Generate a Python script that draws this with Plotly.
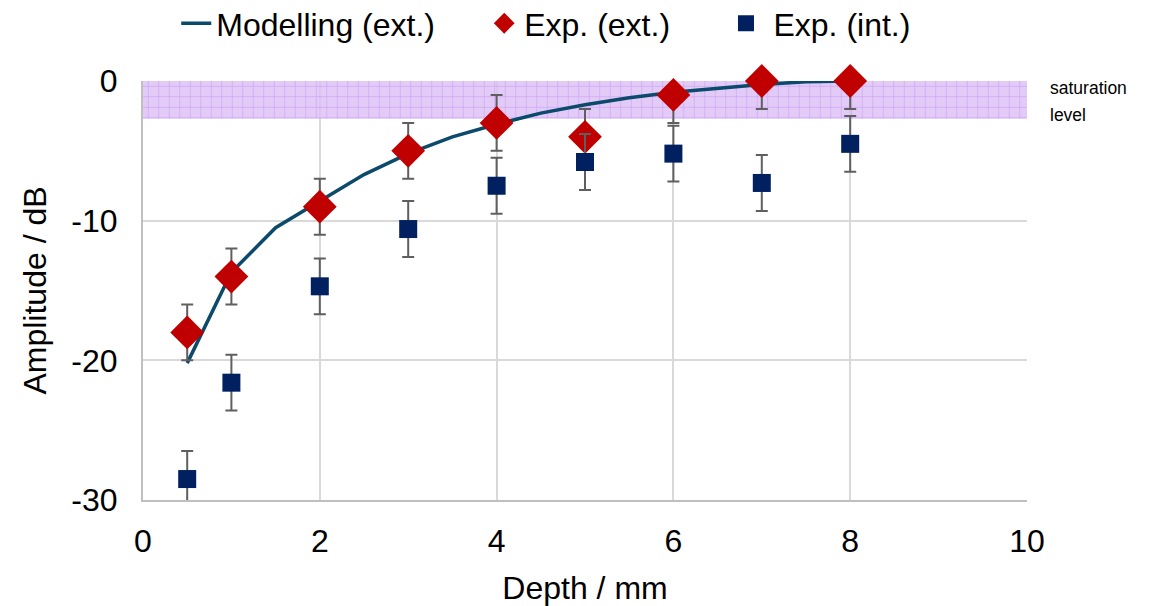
import plotly.graph_objects as go

# Data
model_x = [0.5, 1.0, 1.5, 2.0, 2.5, 3.0, 3.5, 4.0, 4.5, 5.0, 5.5, 6.0, 6.5, 7.0, 7.5, 8.0]
model_y = [-20.2, -13.7, -10.5, -8.6, -6.7, -5.2, -4.0, -3.1, -2.3, -1.7, -1.2, -0.8, -0.5, -0.25, -0.05, 0.0]

ext_x = [0.5, 1, 2, 3, 4, 5, 6, 7, 8]
ext_y = [-18, -14, -9, -5, -3, -4, -1, 0, 0]
ext_err = [2, 2, 2, 2, 2, 2, 2, 2, 2]

int_x = [0.5, 1, 2, 3, 4, 5, 6, 7, 8]
int_y = [-28.5, -21.6, -14.7, -10.6, -7.5, -5.8, -5.2, -7.3, -4.5]
int_err = [2, 2, 2, 2, 2, 2, 2, 2, 2]

sat_low = -2.7
sat_high = 0.0
x_range = [0, 10]
y_range = [-30, 0]
x_ticks = [0, 2, 4, 6, 8, 10]
x_ticktext = ["0", "2", "4", "6", "8", "10"]
y_ticks = [-30, -20, -10, 0]
y_ticktext = ["-30", "-20", "-10", "0"]

FONT = "Arial, 'Liberation Sans', sans-serif"
ERR_COLOR = "#5f5f5f"
FS = 32

fig = go.Figure()

# saturation band
fig.add_trace(go.Bar(
    x=[(x_range[0] + x_range[1]) / 2], y=[sat_high - sat_low], base=[sat_low],
    width=[x_range[1] - x_range[0]],
    opacity=0.8,
    marker=dict(color="#dcc0f6", line=dict(width=0),
                pattern=dict(shape="+", fgcolor="#b56ced", bgcolor="#dcc0f6",
                             size=10.5, solidity=0.16, fillmode="overlay")),
    showlegend=False, hoverinfo="skip",
))

fig.add_trace(go.Scatter(
    x=model_x, y=model_y, mode="lines", name="Modelling (ext.)",
    line=dict(color="#0b4a6b", width=3.5), cliponaxis=False, legend="legend",
))

fig.add_trace(go.Scatter(
    x=ext_x, y=ext_y, mode="markers", name="Exp. (ext.)",
    marker=dict(symbol="diamond", size=26, color="#c00000"),
    error_y=dict(type="data", array=ext_err, visible=True, color=ERR_COLOR,
                 thickness=2, width=6),
    cliponaxis=False, legend="legend2",
))

fig.add_trace(go.Scatter(
    x=int_x, y=int_y, mode="markers", name="Exp. (int.)",
    marker=dict(symbol="square", size=18, color="#002060"),
    error_y=dict(type="data", array=int_err, visible=True, color=ERR_COLOR,
                 thickness=2, width=6),
    cliponaxis=False, legend="legend3",
))

for txt, yy in [("saturation", -0.5), ("level", -2.45)]:
    fig.add_annotation(
        x=1.024, xref="paper", y=yy, yref="y",
        text=txt, showarrow=False, xanchor="left", yanchor="middle",
        align="left", font=dict(size=17.5, color="#000000", family=FONT),
    )

leg_common = dict(orientation="h", y=1.203, yanchor="top", xanchor="left",
                  font=dict(size=FS, family=FONT), bgcolor="rgba(0,0,0,0)")

# page body has an 8px default margin, so the figure is 8px smaller
fig.update_layout(
    width=1152, height=598,
    margin=dict(l=135, r=133, t=73, b=106, autoexpand=False),
    paper_bgcolor="white", plot_bgcolor="white",
    font=dict(family=FONT, size=FS, color="#000000"),
    barmode="overlay",
    legend=dict(x=0.0376, **leg_common),
    legend2=dict(x=0.386, **leg_common),
    legend3=dict(x=0.651, itemwidth=45, **leg_common),
    xaxis=dict(range=x_range, tickvals=x_ticks, ticktext=x_ticktext, showgrid=True,
               gridcolor="#d9d9d9", gridwidth=2, zeroline=False, showline=True,
               linecolor="#bfbfbf", linewidth=2, ticks="", ticklabelstandoff=12,
               automargin=False,
               title=dict(text="Depth / mm", standoff=20, font=dict(size=FS)),
               tickfont=dict(size=FS)),
    yaxis=dict(range=y_range, tickvals=y_ticks, ticktext=y_ticktext, showgrid=True,
               gridcolor="#d9d9d9", gridwidth=2, zeroline=False, showline=True,
               linecolor="#bfbfbf", linewidth=2, ticks="", ticklabelstandoff=17,
               automargin=False,
               title=dict(text="Amplitude / dB", standoff=15, font=dict(size=FS)),
               tickfont=dict(size=FS)),
)

fig.write_html("out.html")
